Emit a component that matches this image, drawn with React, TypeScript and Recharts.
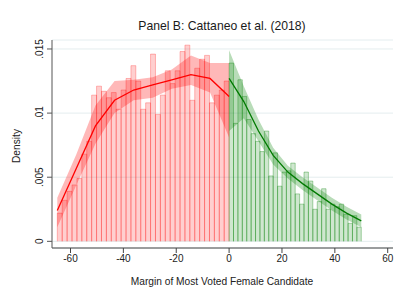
import React from 'react';
import { ComposedChart, Area, Line, XAxis, YAxis, CartesianGrid } from 'recharts';

// ---- histogram bins (left / right of cutoff) ----
const RED_BIN_START = -65;
const RED_BIN_END = 0;
const redDensity = [
  0.0022, 0.0032, 0.0039, 0.0044, 0.0049, 0.0068, 0.0078, 0.0114, 0.0121, 0.0117,
  0.0112, 0.0116, 0.0103, 0.0118, 0.0127, 0.0137, 0.0125, 0.0103, 0.0108, 0.0146,
  0.0099, 0.0114, 0.0133, 0.0123, 0.0133, 0.0148, 0.0153, 0.0110, 0.0135, 0.0142,
  0.0145, 0.0108, 0.0114, 0.0118, 0.0125,
];
const GREEN_BIN_START = 0;
const GREEN_BIN_END = 50;
const greenDensity = [
  0.0139, 0.0092, 0.0126, 0.0113, 0.0095, 0.0084, 0.0078, 0.0070, 0.0086, 0.0051,
  0.0069, 0.0043, 0.0054, 0.0055, 0.0061, 0.0037, 0.0029, 0.0054, 0.0047, 0.0025,
  0.0031, 0.0041, 0.0025, 0.0029, 0.0027, 0.0029, 0.0021, 0.0014, 0.0020, 0.0011,
];

// ---- fitted density and confidence band ----
const redFitX = [-65, -57.78, -50.56, -43.33, -36.11, -28.89, -21.67, -14.44, -7.22, 0];
const redFit = [0.0024, 0.0057, 0.0090, 0.0110, 0.0118, 0.0122, 0.0126, 0.0130, 0.0127, 0.0113];
const redLo = [0.0011, 0.0044, 0.0076, 0.0100, 0.0110, 0.0112, 0.0119, 0.0122, 0.0116, 0.0081];
const redHi = [0.0034, 0.0068, 0.0106, 0.0125, 0.0126, 0.0128, 0.0134, 0.0145, 0.0139, 0.0139];

const greenFitX = [0, 5.56, 11.11, 16.67, 22.22, 27.78, 33.33, 38.89, 44.44, 50];
const greenFit = [0.0127, 0.0109, 0.0086, 0.0067, 0.0054, 0.0045, 0.0037, 0.0029, 0.0022, 0.0016];
const greenLo = [0.0086, 0.0096, 0.0078, 0.0060, 0.0049, 0.0040, 0.0032, 0.0024, 0.0017, 0.0011];
const greenHi = [0.0149, 0.0121, 0.0095, 0.0073, 0.0059, 0.0050, 0.0042, 0.0034, 0.0027, 0.0021];

// ---- axes ----
const xTicks = [-60, -40, -20, 0, 20, 40, 60];
const xDomain = [-67, 62];
const yTicks = [0, 0.005, 0.01, 0.015];
const yTickLabels = ['0', '.005', '.01', '.015'];
const yDomain = [-0.00052, 0.0157];

const TITLE = 'Panel B: Cattaneo et al. (2018)';
const X_LABEL = 'Margin of Most Voted Female Candidate';
const Y_LABEL = 'Density';

const FONT = '"Liberation Sans", Arial, Helvetica, sans-serif';

function histOutline(start: number, end: number, dens: number[]) {
  const w = (end - start) / dens.length;
  const pts: { x: number; y: number }[] = [];
  dens.forEach((d, i) => {
    const lo = start + i * w;
    const hi = lo + w;
    pts.push({ x: lo, y: 0 }, { x: lo, y: d }, { x: hi, y: d }, { x: hi, y: 0 });
  });
  return pts;
}

const redHist = histOutline(RED_BIN_START, RED_BIN_END, redDensity);
const greenHist = histOutline(GREEN_BIN_START, GREEN_BIN_END, greenDensity);
const redLine = redFitX.map((x, i) => ({ x, y: redFit[i] }));
const greenLine = greenFitX.map((x, i) => ({ x, y: greenFit[i] }));
const redBand = redFitX.map((x, i) => ({ x, range: [redLo[i], redHi[i]] }));
const greenBand = greenFitX.map((x, i) => ({ x, range: [greenLo[i], greenHi[i]] }));

const YTick = (props: any) => {
  const { x, y, payload } = props;
  const idx = yTicks.indexOf(payload.value);
  const label = idx >= 0 ? yTickLabels[idx] : String(payload.value);
  const bx = x - 1.5;
  return (
    <text
      x={bx}
      y={y}
      transform={`rotate(-90 ${bx} ${y})`}
      textAnchor="middle"
      fontSize={10}
      fontFamily={FONT}
      fill="#222"
    >
      {label}
    </text>
  );
};

const XTick = (props: any) => {
  const { x, y, payload } = props;
  return (
    <text x={x} y={y + 7.3} textAnchor="middle" fontSize={10} fontFamily={FONT} fill="#222">
      {payload.value}
    </text>
  );
};

export default function App() {
  return (
    <div style={{ position: 'absolute', left: 0, top: 0, width: 401, height: 296, background: '#fff' }}>
      <ComposedChart
        width={401}
        height={296}
        margin={{ top: 40, right: 8, bottom: 18, left: 0 }}
        barCategoryGap={0}
      >
        <CartesianGrid vertical={false} stroke="#e4edef" strokeWidth={1} />
        <XAxis
          dataKey="x"
          type="number"
          domain={xDomain}
          ticks={xTicks}
          allowDataOverflow
          height={30}
          tickSize={5}
          axisLine={{ stroke: '#444' }}
          tickLine={{ stroke: '#444' }}
          tick={<XTick />}
        />
        <YAxis
          type="number"
          domain={yDomain}
          ticks={yTicks}
          allowDataOverflow
          width={52}
          tickSize={5}
          axisLine={{ stroke: '#555' }}
          tickLine={{ stroke: '#555' }}
          tick={<YTick />}
        />
        <Area
          data={redHist}
          dataKey="y"
          type="linear"
          baseValue={0}
          fill="#ff0000"
          fillOpacity={0.19}
          stroke="#ff0000"
          strokeOpacity={0.26}
          strokeWidth={1}
          dot={false}
          activeDot={false}
          isAnimationActive={false}
        />
        <Area
          data={greenHist}
          dataKey="y"
          type="linear"
          baseValue={0}
          fill="#008000"
          fillOpacity={0.19}
          stroke="#008000"
          strokeOpacity={0.33}
          strokeWidth={1}
          dot={false}
          activeDot={false}
          isAnimationActive={false}
        />
        <Area
          data={redBand}
          dataKey="range"
          type="linear"
          fill="#ff0000"
          fillOpacity={0.28}
          stroke="none"
          dot={false}
          activeDot={false}
          isAnimationActive={false}
        />
        <Area
          data={greenBand}
          dataKey="range"
          type="linear"
          fill="#008000"
          fillOpacity={0.28}
          stroke="none"
          dot={false}
          activeDot={false}
          isAnimationActive={false}
        />
        <Line
          data={redLine}
          dataKey="y"
          type="linear"
          stroke="#ff0000"
          strokeWidth={1.3}
          dot={false}
          activeDot={false}
          isAnimationActive={false}
        />
        <Line
          data={greenLine}
          dataKey="y"
          type="linear"
          stroke="#007a00"
          strokeWidth={1.3}
          dot={false}
          activeDot={false}
          isAnimationActive={false}
        />
      </ComposedChart>
      <svg
        width={401}
        height={296}
        style={{ position: 'absolute', left: 0, top: 0, pointerEvents: 'none' }}
      >
        <text x={222} y={29.5} textAnchor="middle" fontSize={12.2} fontFamily={FONT} fill="#1a1a1a">
          {TITLE}
        </text>
        <text x={222} y={284.5} textAnchor="middle" fontSize={10.2} fontFamily={FONT} fill="#222">
          {X_LABEL}
        </text>
        <text
          x={20}
          y={146}
          transform="rotate(-90 20 146)"
          textAnchor="middle"
          fontSize={10.2}
          fontFamily={FONT}
          fill="#222"
        >
          {Y_LABEL}
        </text>
      </svg>
    </div>
  );
}
